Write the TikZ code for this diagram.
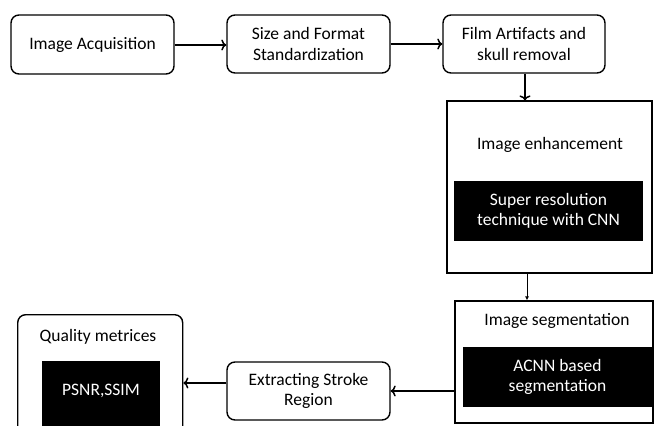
\documentclass[tikz,border=0pt]{standalone}
\usepackage{fontspec}
\setmainfont{Carlito}
\usetikzlibrary{arrows.meta,calc}
\tikzset{
  rbox/.style={draw=black, line width=1.4pt, rounded corners=8pt, fill=white, align=center, inner sep=0pt},
  sbox/.style={draw=black, line width=1.2pt, fill=white, inner sep=0pt},
  blk/.style={fill=black, text=white, align=center, inner sep=0pt},
  lbl/.style={align=center, inner sep=0pt},
  arr/.style={line width=1.6pt, -{To[length=5pt,width=11pt,line width=1.5pt]}},
  thinarr/.style={line width=0.8pt, -{Latex[length=4pt,width=4pt]}},
}
\begin{document}
\begin{tikzpicture}[x=1pt,y=-1pt,font=\fontsize{17.5}{20.5}\selectfont]
\useasboundingbox (0,0) rectangle (654,426);
\clip (0,0) rectangle (654,426);
\fill[white] (0,0) rectangle (654,426);
% top row
\node[rbox, minimum width=163pt, minimum height=59pt] (acq) at (92.5,44.5) {Image Acquisition};
\node[rbox, minimum width=163pt, minimum height=58pt] (size) at (308.5,44) {Size and Format\\Standardization};
\node[rbox, minimum width=162pt, minimum height=58pt] (film) at (524,44) {Film Artifacts and\\skull removal};
% enhancement
\node[sbox, minimum width=205pt, minimum height=172pt] (enh) at (549.5,187) {};
\node[lbl] (enht) at (550,145) {Image enhancement};
\node[blk, minimum width=189pt, minimum height=60pt] (enhb) at (548.5,211) {Super resolution\\technique with CNN};
% segmentation
\node[sbox, minimum width=198pt, minimum height=122pt] (seg) at (554,362) {};
\node[lbl] (segt) at (557,321) {Image segmentation};
\node[blk, minimum width=189pt, minimum height=60pt] (segb) at (557.5,377) {ACNN based\\segmentation};
% extracting
\node[rbox, minimum width=163pt, minimum height=58pt] (ext) at (308.5,391) {Extracting Stroke\\Region};
% quality
\node[rbox, minimum width=165pt, minimum height=130pt, anchor=north west] (qual) at (17,314) {};
\node[lbl] (qualt) at (98,337) {Quality metrices};
\node[blk, minimum width=118pt, minimum height=70pt, anchor=north west] (qualb) at (42,361) {};
\node[lbl, text=white] (qualbt) at (101,391) {PSNR,SSIM};
% connectors
\draw[arr] (acq.east |- 0,45) -- (size.west |- 0,45);
\draw[arr] (size.east) -- (film.west);
\draw[arr] (film.south -| 525,0) -- (enh.north -| 525,0);
\draw[thinarr] (enh.south -| 527,0) -- (seg.north -| 527,0);
\draw[arr] (seg.west |- 0,391) -- (ext.east |- 0,391);
\draw[arr] (ext.west |- 0,383) -- (qual.east |- 0,383);
\end{tikzpicture}
\end{document}
